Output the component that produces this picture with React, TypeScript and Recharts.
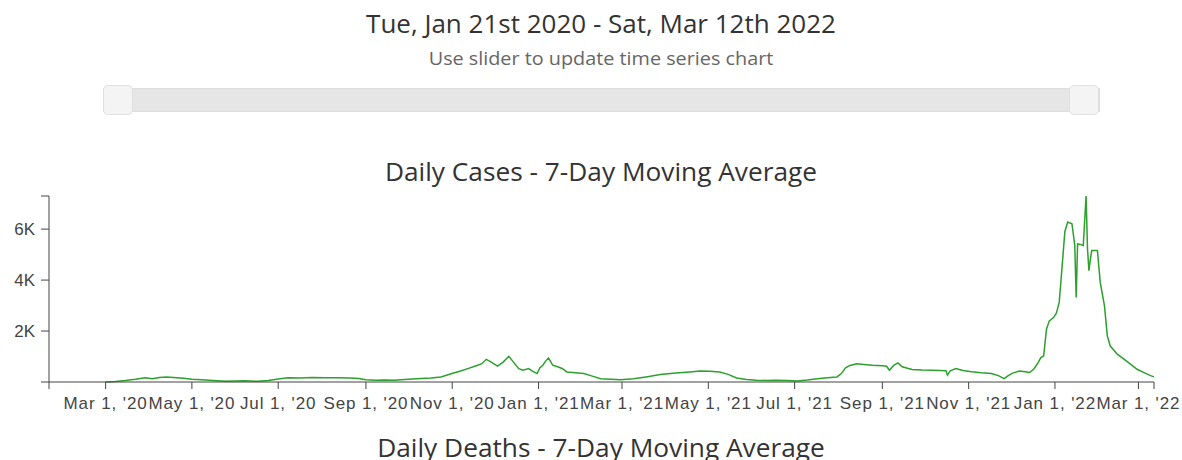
import { Line, LineChart, XAxis, YAxis } from 'recharts';

const rangeStart = '2020-01-21';
const rangeEnd = '2022-03-12';

const caseDates = [
  '2020-03-01', '2020-03-08', '2020-03-15', '2020-03-22', '2020-03-29', '2020-04-03', '2020-04-08', '2020-04-13',
  '2020-04-18', '2020-04-25', '2020-05-01', '2020-05-08', '2020-05-16', '2020-05-25', '2020-06-01', '2020-06-07',
  '2020-06-17', '2020-06-24', '2020-07-01', '2020-07-08', '2020-07-16', '2020-07-25', '2020-08-03', '2020-08-12',
  '2020-08-21', '2020-08-27', '2020-09-01', '2020-09-08', '2020-09-14', '2020-09-21', '2020-10-01', '2020-10-10',
  '2020-10-17', '2020-10-24', '2020-11-02', '2020-11-07', '2020-11-12', '2020-11-19', '2020-11-22', '2020-11-25',
  '2020-11-28', '2020-12-03', '2020-12-07', '2020-12-11', '2020-12-14', '2020-12-18', '2020-12-21', '2020-12-25',
  '2020-12-28', '2020-12-31', '2021-01-02', '2021-01-04', '2021-01-06', '2021-01-08', '2021-01-11', '2021-01-15',
  '2021-01-18', '2021-01-21', '2021-01-27', '2021-02-02', '2021-02-08', '2021-02-14', '2021-02-21', '2021-02-28',
  '2021-03-09', '2021-03-18', '2021-03-28', '2021-04-08', '2021-04-18', '2021-04-25', '2021-05-02', '2021-05-09',
  '2021-05-15', '2021-05-21', '2021-05-28', '2021-06-04', '2021-06-11', '2021-06-18', '2021-06-25', '2021-07-03',
  '2021-07-10', '2021-07-17', '2021-07-24', '2021-07-31', '2021-08-03', '2021-08-06', '2021-08-09', '2021-08-14',
  '2021-08-19', '2021-08-25', '2021-09-01', '2021-09-04', '2021-09-06', '2021-09-09', '2021-09-12', '2021-09-15',
  '2021-09-22', '2021-09-29', '2021-10-06', '2021-10-12', '2021-10-16', '2021-10-17', '2021-10-19', '2021-10-23',
  '2021-10-28', '2021-11-03', '2021-11-10', '2021-11-17', '2021-11-22', '2021-11-26', '2021-11-29', '2021-12-02',
  '2021-12-07', '2021-12-11', '2021-12-14', '2021-12-17', '2021-12-20', '2021-12-22', '2021-12-24', '2021-12-26',
  '2021-12-28', '2021-12-31', '2022-01-02', '2022-01-04', '2022-01-06', '2022-01-08', '2022-01-10', '2022-01-13',
  '2022-01-15', '2022-01-16', '2022-01-17', '2022-01-19', '2022-01-21', '2022-01-23', '2022-01-24', '2022-01-25',
  '2022-01-26', '2022-01-27', '2022-01-31', '2022-02-02', '2022-02-05', '2022-02-07', '2022-02-09', '2022-02-14',
  '2022-02-19', '2022-02-22', '2022-02-28', '2022-03-05', '2022-03-10', '2022-03-12',
];

const caseValues = [
  0, 20, 60, 110, 170, 130, 180, 200,
  180, 150, 110, 90, 60, 30, 40, 50,
  25, 60, 120, 165, 160, 175, 170, 165,
  160, 140, 90, 70, 75, 65, 110, 140,
  160, 200, 355, 430, 525, 660, 720, 890,
  800, 620, 780, 1010, 800, 525, 460, 525,
  420, 330, 560, 660, 820, 945, 660, 590,
  520, 395, 360, 330, 230, 130, 110, 90,
  130, 200, 290, 350, 395, 430, 420, 394,
  300, 160, 100, 70, 60, 70, 55, 40,
  80, 130, 170, 200, 330, 560, 650, 720,
  690, 660, 640, 620, 460, 650, 750, 600,
  490, 470, 460, 450, 440, 270, 440, 525,
  450, 400, 360, 330, 250, 130, 250, 350,
  430, 400, 370, 500, 750, 960, 1020, 2070,
  2400, 2530, 2700, 3125, 4500, 5900, 6280, 6210,
  5360, 3320, 5420, 5400, 5360, 7300, 5230, 4370,
  4800, 5160, 5160, 3910, 2990, 1810, 1420, 1090,
  890, 760, 500, 370, 240, 200,
];

const monthTicks = [
  '2020-03-01', '2020-05-01', '2020-07-01', '2020-09-01', '2020-11-01', '2021-01-01',
  '2021-03-01', '2021-05-01', '2021-07-01', '2021-09-01', '2021-11-01', '2022-01-01', '2022-03-01',
];
const monthLabels = [
  "Mar 1, '20", "May 1, '20", "Jul 1, '20", "Sep 1, '20", "Nov 1, '20", "Jan 1, '21",
  "Mar 1, '21", "May 1, '21", "Jul 1, '21", "Sep 1, '21", "Nov 1, '21", "Jan 1, '22", "Mar 1, '22",
];

const valueTicks = [0, 2000, 4000, 6000];
const valueLabels = ['', '2K', '4K', '6K'];

const data = caseDates.map((d, i) => ({ t: Date.parse(d), v: caseValues[i] }));
const xStart = Date.parse(rangeStart);
const xEnd = Date.parse(rangeEnd);
const yMax = Math.max(...caseValues);
const xTicks = [xStart, ...monthTicks.map((d) => Date.parse(d)), xEnd];
const yTicks = [...valueTicks, yMax];

const titleFont = '"Open Sans", sans-serif';
const axisFont = '"Liberation Sans", Arial, sans-serif';

function formatX(t: number) {
  const i = monthTicks.findIndex((d) => Date.parse(d) === t);
  return i >= 0 ? monthLabels[i] : '';
}

function formatY(v: number) {
  const i = valueTicks.indexOf(v);
  return i >= 0 ? valueLabels[i] : '';
}

// centred heading; stretch widens it a touch where the reference text runs wider
function Heading({ top, size, stretch = 1, color, children }: { top: number; size: number; stretch?: number; color: string; children: string }) {
  return (
    <div
      style={{
        position: 'absolute', left: 0, top, width: 1202, textAlign: 'center',
        fontFamily: titleFont, fontSize: size, lineHeight: '30px', color,
        transform: `scaleX(${stretch})`, transformOrigin: '601px 50%', whiteSpace: 'nowrap',
      }}
    >
      {children}
    </div>
  );
}

function Slider() {
  const handle = {
    position: 'absolute' as const,
    top: 85,
    width: 30,
    height: 30,
    boxSizing: 'border-box' as const,
    background: '#f4f4f4',
    border: '1px solid #e0e0e0',
    borderRadius: 5,
  };
  return (
    <>
      <div
        style={{
          position: 'absolute',
          left: 103,
          top: 88,
          width: 997,
          height: 24,
          boxSizing: 'border-box',
          background: '#e6e6e6',
          border: '1px solid #dedede',
        }}
      />
      <div style={{ ...handle, left: 103 }} />
      <div style={{ ...handle, left: 1069 }} />
    </>
  );
}

export default function App() {
  return (
    <div style={{ position: 'absolute', left: 0, top: 0, width: 1182, height: 460, overflow: 'hidden', background: '#fff' }}>
      <Heading top={8} size={26} color="#333">
        Tue, Jan 21st 2020 - Sat, Mar 12th 2022
      </Heading>
      <Heading top={43} size={18} stretch={1.1} color="#666">
        Use slider to update time series chart
      </Heading>
      <Slider />
      <Heading top={156} size={26} stretch={1.01} color="#333">
        Daily Cases - 7-Day Moving Average
      </Heading>
      <div style={{ position: 'absolute', left: 0, top: 190 }}>
        <LineChart width={1182} height={230} data={data} margin={{ top: 6, right: 28, bottom: 0, left: 0 }}>
          <XAxis
            dataKey="t"
            type="number"
            scale="time"
            domain={[xStart, xEnd]}
            ticks={xTicks}
            interval={0}
            tickFormatter={formatX}
            height={38}
            tickSize={7}
            tickMargin={8}
            axisLine={{ stroke: '#444' }}
            tickLine={{ stroke: '#444' }}
            tick={{ fill: '#444', fontSize: 17, fontFamily: axisFont, letterSpacing: 0.9 }}
          />
          <YAxis
            type="number"
            domain={[0, yMax]}
            ticks={yTicks}
            interval={0}
            tickFormatter={formatY}
            width={49}
            tickSize={8}
            tickMargin={6}
            axisLine={{ stroke: '#444' }}
            tickLine={{ stroke: '#444' }}
            tick={{ fill: '#444', fontSize: 17, fontFamily: axisFont }}
          />
          <Line
            dataKey="v"
            type="linear"
            stroke="#2ca02c"
            strokeWidth={1.5}
            dot={false}
            isAnimationActive={false}
          />
        </LineChart>
      </div>
      <Heading top={432} size={26} stretch={1.01} color="#333">
        Daily Deaths - 7-Day Moving Average
      </Heading>
    </div>
  );
}
